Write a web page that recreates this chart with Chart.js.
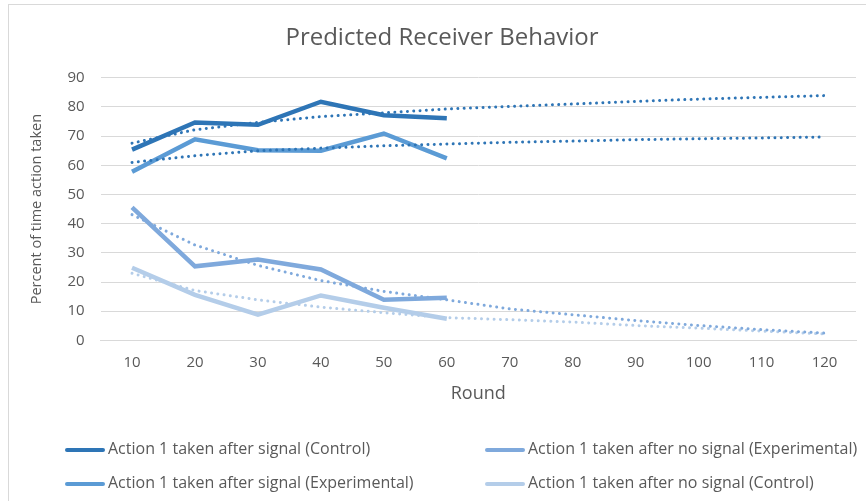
<!DOCTYPE html>
<html>
<head>
<meta charset="utf-8">
<script src="https://cdn.jsdelivr.net/npm/chart.js@4"></script>
<style>
  html, body { margin: 0; padding: 0; background: #fff; overflow: hidden; }
  #wrap { position: relative; width: 866px; height: 501px; }
  #frame { position: absolute; left: 8px; top: 4px; width: 900px; height: 600px; border: 1px solid #d9d9d9; box-sizing: border-box; }
  canvas { position: absolute; left: 0; top: 0; }
  .legend { position: absolute; font-family: "Open Sans", sans-serif; font-size: 16px; line-height: 20px; color: #595959; white-space: nowrap; }
  .legend span.sw { display: inline-block; width: 40px; height: 4px; border-radius: 2px; vertical-align: middle; margin-right: 3px; }
</style>
</head>
<body>
<div id="wrap">
  <div id="frame"></div>
  <canvas id="receiverChart" width="866" height="501"></canvas>
  <div id="legend"></div>
</div>
<script>
// Rounds
const rounds = ["10", "20", "30", "40", "50", "60", "70", "80", "90", "100", "110", "120"];

// Observed percentages (rounds 10-60)
const signalControl = [65.4, 74.7, 73.9, 81.8, 77.2, 76.1];
const signalExperimental = [57.8, 68.9, 65.2, 65.0, 70.9, 62.4];
const noSignalExperimental = [45.6, 25.4, 27.7, 24.3, 13.9, 14.6];
const noSignalControl = [24.9, 15.6, 8.8, 15.4, 11.2, 7.4];

// Trendlines (rounds 10-120)
const trendSignalControl = [67.6, 72.2, 74.7, 76.7, 78.0, 79.3, 80.2, 81.0, 81.9, 82.7, 83.3, 83.9];
const trendSignalExperimental = [61.0, 63.3, 65.0, 65.9, 66.7, 67.3, 67.9, 68.3, 68.8, 69.1, 69.4, 69.7];
const trendNoSignalExperimental = [43.1, 32.7, 25.7, 20.5, 16.8, 13.9, 10.8, 8.8, 6.8, 5.1, 3.7, 2.5];
const trendNoSignalControl = [23.0, 17.1, 13.9, 11.4, 9.5, 7.8, 7.1, 6.3, 5.1, 4.2, 3.2, 2.2];

const yTicks = [0, 10, 20, 30, 40, 50, 60, 70, 80, 90];

const textColor = "#595959";
const gridColor = "#d9d9d9";
const fontFamily = "'Open Sans', sans-serif";

const series = [
    { label: "Action 1 taken after signal (Control)", data: signalControl, color: "#2e75b6" },
    { label: "Action 1 taken after signal (Experimental)", data: signalExperimental, color: "#5b9bd5" },
    { label: "Action 1 taken after no signal (Experimental)", data: noSignalExperimental, color: "#7fa9dc" },
    { label: "Action 1 taken after no signal (Control)", data: noSignalControl, color: "#b4cde9" }
];

const trends = [
    { data: trendSignalControl, color: "#2e75b6" },
    { data: trendSignalExperimental, color: "#2e75b6" },
    { data: trendNoSignalExperimental, color: "#7fa9dc" },
    { data: trendNoSignalControl, color: "#b4cde9" }
];

const datasets = [];
trends.forEach(t => {
    datasets.push({
        label: "trend",
        data: t.data,
        borderColor: t.color,
        borderWidth: 3,
        borderDash: [0.01, 6.3],
        borderCapStyle: "round",
        pointRadius: 0,
        fill: false,
        tension: 0
    });
});
series.forEach(s => {
    datasets.push({
        label: s.label,
        data: s.data,
        borderColor: s.color,
        backgroundColor: s.color,
        borderWidth: 4.5,
        pointRadius: 0,
        fill: false,
        tension: 0,
        borderJoinStyle: "miter"
    });
});

new Chart(document.getElementById("receiverChart"), {
    type: "line",
    data: { labels: rounds, datasets: datasets },
    options: {
        responsive: false,
        animation: false,
        layout: { padding: { left: 28, right: 10, top: 8, bottom: 92 } },
        plugins: {
            legend: { display: false },
            tooltip: { enabled: false },
            title: {
                display: true,
                text: "Predicted Receiver Behavior",
                color: textColor,
                font: { family: fontFamily, size: 24, weight: "normal" },
                padding: { top: 16, bottom: 25 }
            }
        },
        scales: {
            x: {
                offset: true,
                grid: { display: false },
                border: { display: true, color: gridColor, width: 1 },
                ticks: { color: textColor, font: { family: fontFamily, size: 15 }, padding: 5, maxRotation: 0 },
                title: {
                    display: true,
                    text: "Round",
                    color: textColor,
                    font: { family: fontFamily, size: 18 },
                    padding: { top: 7, bottom: 4 }
                }
            },
            y: {
                min: 0,
                max: 90,
                afterBuildTicks: axis => { axis.ticks = yTicks.map(v => ({ value: v })); },
                grid: { color: gridColor, lineWidth: 1, drawTicks: false },
                border: { display: false },
                ticks: { color: textColor, font: { family: fontFamily, size: 15 }, padding: 16 },
                title: {
                    display: true,
                    text: "Percent of time action taken",
                    color: textColor,
                    font: { family: fontFamily, size: 14.5 },
                    padding: { top: 0, bottom: 6 }
                }
            }
        }
    }
});

// Legend: two columns like the original
const legendPos = [
    { left: 65, top: 448 },
    { left: 65, top: 482 },
    { left: 485, top: 448 },
    { left: 485, top: 482 }
];
const legendBox = document.getElementById("legend");
series.forEach((s, i) => {
    const item = document.createElement("div");
    item.className = "legend";
    item.style.left = legendPos[i].left + "px";
    item.style.top = (legendPos[i].top - 10) + "px";
    item.innerHTML = '<span class="sw" style="background:' + s.color + '"></span>' + s.label;
    legendBox.appendChild(item);
});
</script>
</body>
</html>
